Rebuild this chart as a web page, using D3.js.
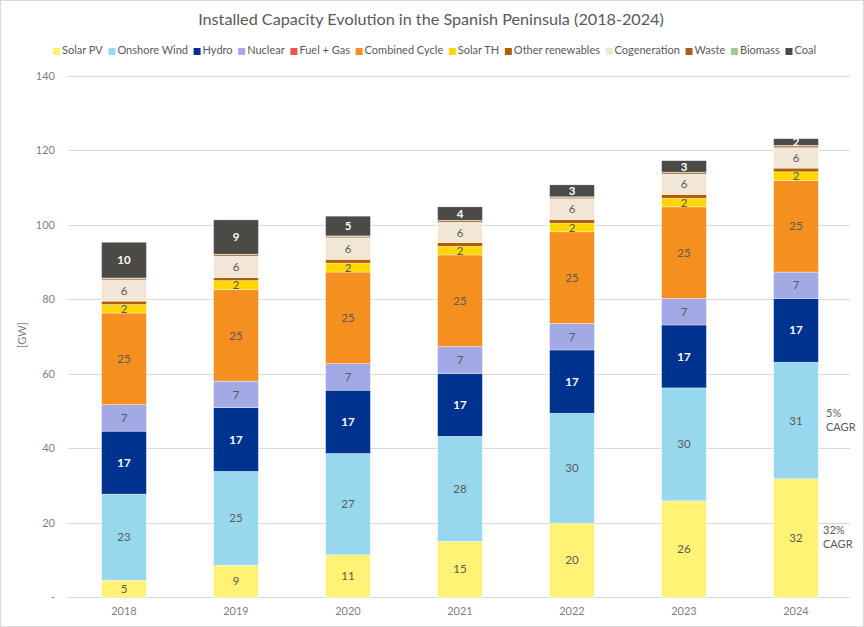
<!DOCTYPE html>
<html>
<head>
<meta charset="utf-8">
<script src="https://cdn.jsdelivr.net/npm/d3@7"></script>
<style>
  html, body { margin: 0; padding: 0; background: #fff; }
  svg { display: block; font-family: Lato, "Open Sans", sans-serif; }
</style>
</head>
<body>
<svg id="chart" width="864" height="627"></svg>
<script>
// ---- Data (GW) ----
const years = ["2018", "2019", "2020", "2021", "2022", "2023", "2024"];
const seriesNames = ["Solar PV", "Onshore Wind", "Hydro", "Nuclear", "Fuel + Gas", "Combined Cycle",
  "Solar TH", "Other renewables", "Cogeneration", "Waste", "Biomass", "Coal"];
const solarPV        = [4.6, 8.6, 11.4, 15.0, 19.9, 25.9, 31.8];
const onshoreWind    = [23.1, 25.2, 27.2, 28.2, 29.5, 30.3, 31.3];
const hydro          = [16.9, 17.1, 17.0, 16.9, 17.0, 16.9, 17.1];
const nuclear        = [7.1, 7.1, 7.1, 7.2, 7.1, 7.1, 7.1];
const fuelGas        = [0, 0, 0, 0, 0, 0, 0];
const combinedCycle  = [24.6, 24.6, 24.6, 24.6, 24.6, 24.6, 24.6];
const solarTH        = [2.3, 2.4, 2.4, 2.3, 2.3, 2.3, 2.3];
const otherRenew     = [0.9, 0.8, 1.0, 1.0, 1.0, 1.0, 1.0];
const cogeneration   = [5.7, 5.8, 5.8, 5.5, 5.6, 5.5, 5.5];
const waste          = [0.4, 0.4, 0.4, 0.4, 0.4, 0.4, 0.45];
const biomass        = [0.1, 0.1, 0.1, 0.1, 0.1, 0.1, 0.15];
const coal           = [9.6, 9.2, 5.3, 3.6, 3.2, 3.1, 1.8];
const yTicks = [0, 20, 40, 60, 80, 100, 120, 140];
const cagrNotes = [["5%", "CAGR"], ["32%", "CAGR"]];
const labelledSeries = ["Solar PV", "Onshore Wind", "Hydro", "Nuclear", "Combined Cycle", "Solar TH", "Cogeneration", "Coal"];

const seriesValues = [solarPV, onshoreWind, hydro, nuclear, fuelGas, combinedCycle, solarTH,
  otherRenew, cogeneration, waste, biomass, coal];
const colors = ["#FFF275", "#98D8EF", "#00338F", "#A2A9E5", "#F0505A", "#F58F1F", "#FFD600",
  "#B35E00", "#F2E6D7", "#A7601C", "#98CC98", "#4B4A46"];
const labelColors = {"Hydro": "#ffffff", "Coal": "#ffffff"};

// ---- Build table ----
const table = years.map((y, i) => {
  const row = {year: y};
  seriesNames.forEach((s, k) => row[s] = seriesValues[k][i]);
  return row;
});
const stacked = d3.stack().keys(seriesNames)(table);

const svg = d3.select("#chart");
const W = 864, H = 627;

svg.append("rect").attr("x", 0.5).attr("y", 0.5).attr("width", W - 1).attr("height", H - 1)
  .attr("fill", "#fff").attr("stroke", "#D9D9D9");

const x = d3.scaleBand().domain(years).range([68, 852]).paddingInner(0.6).paddingOuter(0.3);
const y = d3.scaleLinear().domain([0, 140]).range([597.3, 75.7]);

// gridlines
svg.append("g").selectAll("line").data(yTicks).join("line")
  .attr("x1", 68).attr("x2", 850)
  .attr("y1", d => Math.round(y(d)) + 0.5).attr("y2", d => Math.round(y(d)) + 0.5)
  .attr("stroke", "#D9D9D9").attr("stroke-width", 1);

// y axis
const yAxis = d3.axisLeft(y).tickValues(yTicks).tickSize(0).tickPadding(0)
  .tickFormat(d => d === 0 ? "-" : d);
const gy = svg.append("g").attr("transform", "translate(55,0)").call(yAxis);
gy.select(".domain").remove();
gy.selectAll("text").attr("fill", "#7F7F7F").attr("font-size", 11).attr("font-family", "Lato, sans-serif");

// x axis
const xAxis = d3.axisBottom(x).tickSize(0).tickPadding(0);
const gx = svg.append("g").attr("transform", "translate(0,607)").call(xAxis);
gx.select(".domain").remove();
gx.selectAll("text").attr("fill", "#7F7F7F").attr("font-size", 11).attr("font-family", "Lato, sans-serif");

// bars
const layers = svg.append("g").selectAll("g").data(stacked).join("g")
  .attr("fill", (d, i) => colors[i]);
layers.selectAll("rect").data(d => d.filter(p => p[1] - p[0] > 0)).join("rect")
  .attr("x", d => x(d.data.year))
  .attr("width", x.bandwidth())
  .attr("y", d => y(d[1]))
  .attr("height", d => y(d[0]) - y(d[1]))
  .attr("stroke", "#ffffff").attr("stroke-opacity", 0.6).attr("stroke-width", 0.6);

// segment labels
stacked.forEach((layer, k) => {
  const name = seriesNames[k];
  if (!labelledSeries.includes(name)) return;
  const white = labelColors[name];
  svg.append("g").selectAll("text").data(layer).join("text")
    .attr("x", d => x(d.data.year) + x.bandwidth() / 2)
    .attr("y", d => (y(d[0]) + y(d[1])) / 2)
    .attr("dy", "0.36em")
    .attr("text-anchor", "middle")
    .attr("font-size", 11.5)
    .attr("font-weight", white ? "bold" : "normal")
    .attr("fill", white || "#595959")
    .text(d => Math.round(d[1] - d[0]));
});

// title
svg.append("text").attr("x", 431).attr("y", 25).attr("text-anchor", "middle")
  .attr("font-size", 16.2).attr("fill", "#595959")
  .text("Installed Capacity Evolution in the Spanish Peninsula (2018-2024)");

// legend
const lg = svg.append("g");
const items = lg.selectAll("g").data(seriesNames).join("g");
items.append("rect").attr("width", 7).attr("height", 7).attr("y", -6)
  .attr("fill", (d, i) => colors[i]);
items.append("text").attr("x", 9).attr("y", 0).attr("font-size", 11).attr("fill", "#595959")
  .text(d => d);
const widths = [];
items.each(function() { widths.push(9 + this.querySelector("text").getComputedTextLength()); });
const totalText = d3.sum(widths);
const span = 816 - 53;
const gap = (span - totalText) / (seriesNames.length - 1);
let cx = 53;
items.attr("transform", (d, i) => { const t = `translate(${cx},54)`; cx += widths[i] + gap; return t; });

// y axis title
svg.append("text").attr("transform", "translate(26,335) rotate(-90)")
  .attr("text-anchor", "middle").attr("font-size", 11).attr("fill", "#7F7F7F").text("[GW]");

// CAGR annotations (beside 2024 wind and solar PV segments)
const lastYear = years[years.length - 1];
const windLayer = stacked[1].find(d => d.data.year === lastYear);
const pvLayer = stacked[0].find(d => d.data.year === lastYear);
const notePos = [[826, y((windLayer[0] + windLayer[1]) / 2) - 4], [823, y((pvLayer[0] + pvLayer[1]) / 2) - 4]];
cagrNotes.forEach((lines, i) => {
  const t = svg.append("text").attr("x", notePos[i][0]).attr("y", notePos[i][1])
    .attr("font-size", 11).attr("fill", "#595959");
  lines.forEach((ln, j) => t.append("tspan").attr("x", notePos[i][0]).attr("dy", j === 0 ? 0 : 14).text(ln));
});
</script>
</body>
</html>
